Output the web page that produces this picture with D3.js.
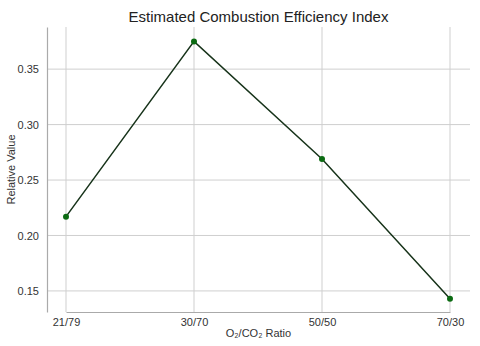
<!DOCTYPE html>
<html>
<head>
<meta charset="utf-8">
<script src="https://cdn.jsdelivr.net/npm/d3@7"></script>
<style>
  body { margin: 0; background: #fff; }
  svg { display: block; font-family: "Liberation Sans", Arial, sans-serif; }
</style>
</head>
<body>
<div id="chart"></div>
<script>
// data
const ratios = ["21/79", "30/70", "50/50", "70/30"]
const efficiency = [0.217, 0.375, 0.269, 0.143]
const yTicks = [0.15, 0.20, 0.25, 0.30, 0.35]

const dims = {
    width: 480,
    height: 346,
    margin: { top: 27, right: 10, bottom: 34, left: 47 }
}
dims.boundedWidth = dims.width - dims.margin.left - dims.margin.right
dims.boundedHeight = dims.height - dims.margin.top - dims.margin.bottom

const svg = d3.select("#chart").append("svg")
    .attr("width", dims.width)
    .attr("height", dims.height)

const bounds = svg.append("g")
    .attr("transform", `translate(${dims.margin.left},${dims.margin.top})`)

// scales
const xScale = d3.scalePoint()
    .domain(ratios)
    .range([19, dims.boundedWidth - 20])

const yScale = d3.scaleLinear()
    .domain([0.131, 0.388])
    .range([dims.boundedHeight, 0])

// grid
bounds.append("g")
    .selectAll("line")
    .data(ratios)
    .join("line")
    .attr("x1", d => xScale(d)).attr("x2", d => xScale(d))
    .attr("y1", 0).attr("y2", dims.boundedHeight)
    .attr("stroke", "#cfcfcf")
    .attr("stroke-width", 1)

bounds.append("g")
    .selectAll("line")
    .data(yTicks)
    .join("line")
    .attr("x1", 0).attr("x2", dims.boundedWidth)
    .attr("y1", d => yScale(d)).attr("y2", d => yScale(d))
    .attr("stroke", "#cfcfcf")
    .attr("stroke-width", 1)

// axes
const xAxis = bounds.append("g")
    .attr("transform", `translate(0,${dims.boundedHeight})`)
    .call(d3.axisBottom(xScale).tickSize(0).tickPadding(6))
const yAxis = bounds.append("g")
    .call(d3.axisLeft(yScale).tickValues(yTicks).tickFormat(d3.format(".2f")).tickSize(0).tickPadding(8))

;[xAxis, yAxis].forEach(a => {
    a.select(".domain").attr("stroke", "#aaaaaa").attr("stroke-width", 1.2)
    a.selectAll("text").attr("fill", "#333").style("font-size", "11px")
})

// line + points
const line = d3.line()
    .x((d, i) => xScale(ratios[i]))
    .y(d => yScale(d))

bounds.append("path")
    .datum(efficiency)
    .attr("d", line)
    .attr("fill", "none")
    .attr("stroke", "#17331a")
    .attr("stroke-width", 1.5)

bounds.append("g")
    .selectAll("circle")
    .data(efficiency)
    .join("circle")
    .attr("cx", (d, i) => xScale(ratios[i]))
    .attr("cy", d => yScale(d))
    .attr("r", 3)
    .attr("fill", "#0b6b12")

// labels
svg.append("text")
    .attr("x", dims.margin.left + dims.boundedWidth / 2)
    .attr("y", 22)
    .attr("text-anchor", "middle")
    .attr("fill", "#222")
    .style("font-size", "15px")
    .text("Estimated Combustion Efficiency Index")

svg.append("text")
    .attr("x", dims.margin.left + dims.boundedWidth / 2)
    .attr("y", 337)
    .attr("text-anchor", "middle")
    .attr("fill", "#333")
    .style("font-size", "11px")
    .text("O₂/CO₂ Ratio")

svg.append("text")
    .attr("transform", `translate(15,${dims.margin.top + dims.boundedHeight / 2}) rotate(-90)`)
    .attr("text-anchor", "middle")
    .attr("fill", "#333")
    .style("font-size", "11px")
    .text("Relative Value")
</script>
</body>
</html>
